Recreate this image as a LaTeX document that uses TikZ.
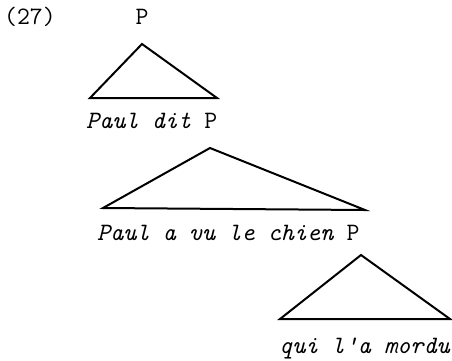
\documentclass[tikz,border=0pt]{standalone}
\usepackage{tikz}
\usetikzlibrary{positioning}

\tikzset{
  lbl/.style={font=\fontsize{25}{28}\selectfont\ttfamily,inner sep=0pt,anchor=base},
  sent/.style={lbl,font=\fontsize{25}{28}\selectfont\ttfamily\itshape},
  tri/.style={line width=2pt,line join=miter}
}

\begin{document}
\begin{tikzpicture}[x=1pt,y=-1pt]
\useasboundingbox (0,0) rectangle (452,360);
\node[lbl,anchor=base west] (num) at (4,24) {(27)};
\node[lbl] (p0) at (142,24) {P};
% first triangle
\coordinate (a1) at (142,44);
\coordinate (l1) at (90,98);
\coordinate (r1) at (217,98);
\draw[tri] (a1) -- (l1) -- (r1) -- cycle;
\node[sent,anchor=base west] (s1) at (86,128) {Paul dit \upshape P};
% second triangle
\coordinate (a2) at (210,148);
\coordinate (l2) at (103,208);
\coordinate (r2) at (365,210);
\draw[tri] (a2) -- (l2) -- (r2) -- cycle;
\node[sent,anchor=base west] (s2) at (97,240) {Paul a vu le chien \upshape P};
% third triangle
\coordinate (a3) at (361,255);
\coordinate (l3) at (280,319);
\coordinate (r3) at (450,319);
\draw[tri] (a3) -- (l3) -- (r3) -- cycle;
\node[sent,anchor=base east] (s3) at (450,353) {qui l'a mordu};
\end{tikzpicture}
\end{document}
